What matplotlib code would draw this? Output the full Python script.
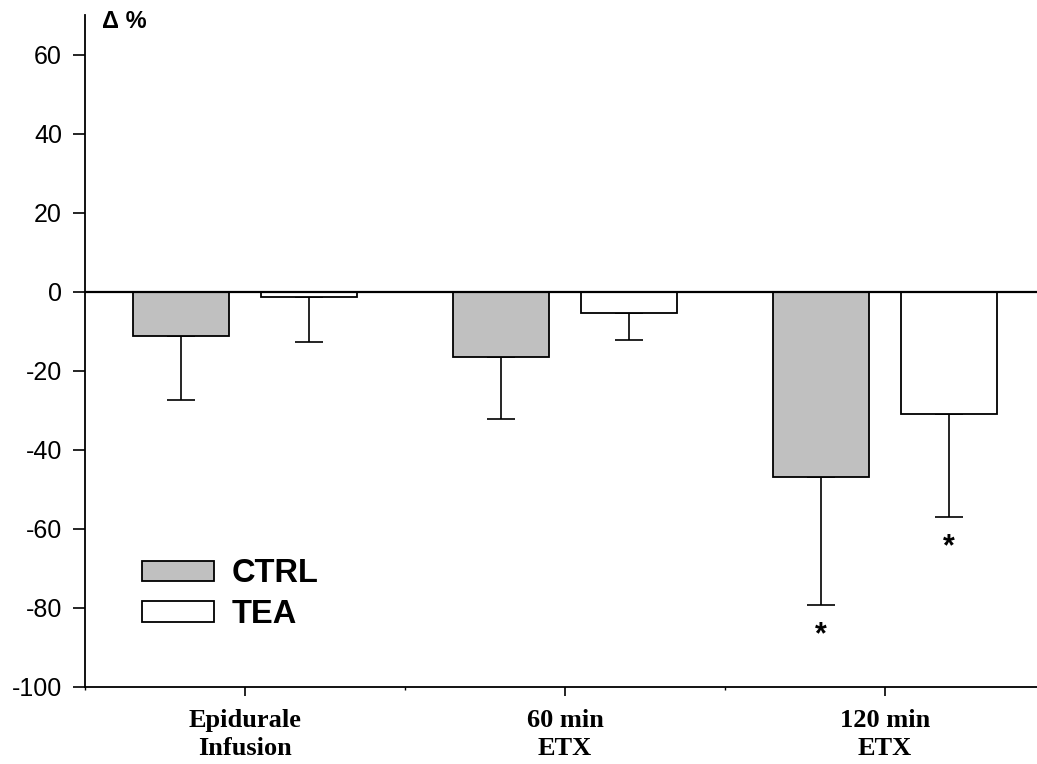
import matplotlib
matplotlib.use('Agg')
import matplotlib.pyplot as plt
import numpy as np

# data
groups = ['Epidurale\nInfusion', '60 min\nETX', '120 min\nETX']
ctrl_mean = [-11.1, -16.4, -46.9]
ctrl_err = [16.4, 15.8, 32.4]
tea_mean = [-1.3, -5.5, -31.0]
tea_err = [11.5, 6.8, 26.1]
ctrl_sig = [False, False, True]
tea_sig = [False, False, True]

plt.rcParams['font.family'] = ['Liberation Sans', 'DejaVu Sans']
plt.rcParams['axes.unicode_minus'] = False

fig = plt.figure(figsize=(10.37, 7.64), dpi=100)
ax = fig.add_axes([85 / 1037, 1 - 687 / 764, 952 / 1037, (687 - 15) / 764])

x = np.arange(len(groups))
w = 0.3
off = 0.2
ax.bar(x - off, ctrl_mean, w, color='#c0c0c0', edgecolor='black', linewidth=1.3, label='CTRL', zorder=2)
ax.bar(x + off, tea_mean, w, color='white', edgecolor='black', linewidth=1.3, label='TEA', zorder=2)
ax.errorbar(x - off, ctrl_mean, yerr=[ctrl_err, [0] * 3], fmt='none', ecolor='black',
            elinewidth=1.2, capsize=10, capthick=1.2, zorder=1)
ax.errorbar(x + off, tea_mean, yerr=[tea_err, [0] * 3], fmt='none', ecolor='black',
            elinewidth=1.2, capsize=10, capthick=1.2, zorder=1)

# significance stars
for i in range(len(groups)):
    if ctrl_sig[i]:
        ax.text(x[i] - off, ctrl_mean[i] - ctrl_err[i] - 7.5, '*', ha='center', va='center',
                fontsize=22, fontweight='bold')
    if tea_sig[i]:
        ax.text(x[i] + off, tea_mean[i] - tea_err[i] - 7.5, '*', ha='center', va='center',
                fontsize=22, fontweight='bold')

ax.axhline(0, color='black', linewidth=1.6, zorder=3)

ax.set_xlim(-0.5, 2.475)
ax.set_ylim(-100, 70)
ax.set_yticks(np.arange(-100, 61, 20))
ax.tick_params(axis='y', labelsize=18, length=8.6, width=1.2, pad=8)
ax.set_xticks(x)
ax.set_xticklabels(groups, fontsize=19, fontweight='bold', family='Liberation Serif', linespacing=1.3)
ax.set_xticks([-0.5, 0.5, 1.5], minor=True)
ax.tick_params(axis='x', which='major', length=6.5, width=1.2, pad=9)
ax.tick_params(axis='x', which='minor', length=2.5, width=1)

for s in ['top', 'right']:
    ax.spines[s].set_visible(False)
ax.spines['left'].set_linewidth(1.3)
ax.spines['bottom'].set_linewidth(1.3)

fig.text(102 / 1037, 1 - 21 / 764, '\u0394 %', fontsize=17, fontweight='bold', va='center', ha='left')

ax.legend(loc='upper left', bbox_to_anchor=(0.029, 0.235), frameon=False,
          handlelength=2.2, handleheight=0.6, handletextpad=0.55, labelspacing=0.3,
          prop={'size': 23.5, 'weight': 'bold'})

fig.savefig('out.png', dpi=100)
